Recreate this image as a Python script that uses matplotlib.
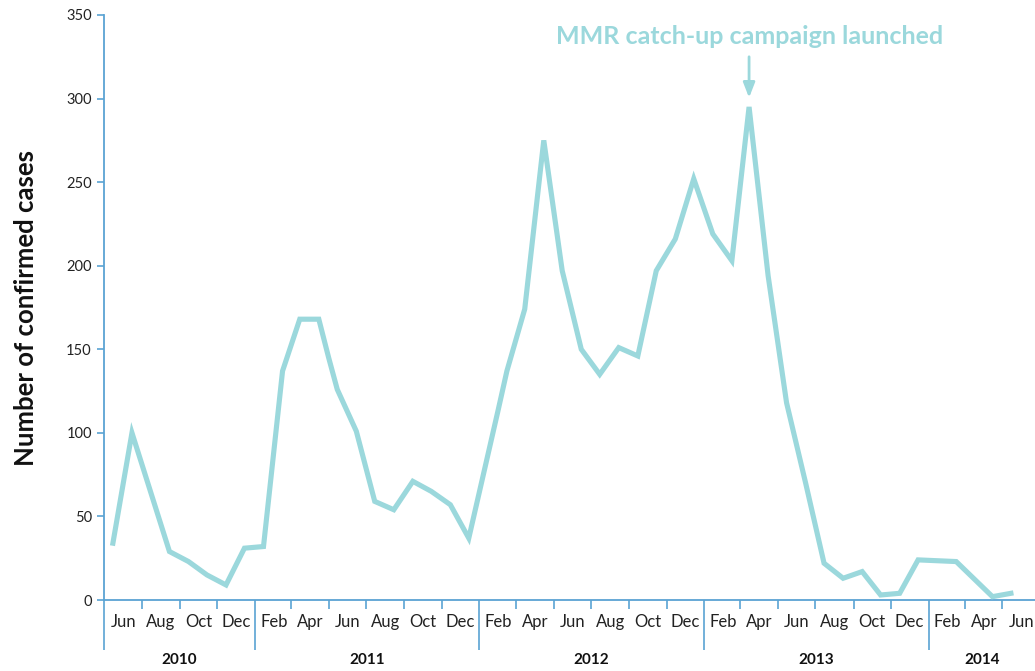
import matplotlib
matplotlib.use("Agg")
import matplotlib.pyplot as plt
import matplotlib.dates as mdates
import pandas as pd

# ---- data ----
dates = ["2010-05-15", "2010-06-15", "2010-08-15", "2010-09-15", "2010-10-15",
         "2010-11-15", "2010-12-15", "2011-01-15", "2011-02-15", "2011-03-15",
         "2011-04-15", "2011-05-01", "2011-05-15", "2011-06-15", "2011-07-15",
         "2011-08-15", "2011-09-15", "2011-10-15", "2011-11-15", "2011-12-15",
         "2012-02-01", "2012-02-15", "2012-03-15", "2012-04-15", "2012-05-15",
         "2012-06-15", "2012-07-15", "2012-08-15", "2012-09-15", "2012-10-15",
         "2012-11-15", "2012-12-15", "2013-01-15", "2013-02-15", "2013-03-15",
         "2013-04-15", "2013-05-15", "2013-06-15", "2013-07-15", "2013-08-15",
         "2013-09-15", "2013-10-15", "2013-11-15", "2013-12-15", "2014-02-15",
         "2014-04-15", "2014-05-15"]
cases = [34, 100, 29, 23, 15,
         9, 31, 32, 137, 168,
         168, 145, 126, 101, 59,
         54, 71, 65, 57, 37,
         114, 137, 174, 275, 197,
         150, 135, 151, 146, 197,
         216, 252, 219, 203, 295,
         194, 118, 70, 22, 13,
         17, 3, 4, 24, 23,
         2, 4]

month_labels = ["Jun", "Aug", "Oct", "Dec",
                "Feb", "Apr", "Jun", "Aug", "Oct", "Dec",
                "Feb", "Apr", "Jun", "Aug", "Oct", "Dec",
                "Feb", "Apr", "Jun", "Aug", "Oct", "Dec",
                "Feb", "Apr", "Jun"]
month_label_dates = pd.date_range("2010-06-01", "2014-06-01", freq="2MS")
years = ["2010", "2011", "2012", "2013", "2014"]
y_ticks = [0, 50, 100, 150, 200, 250, 300, 350]
annotation_text = "MMR catch-up campaign launched"
annotation_date = "2013-03-15"

# ---- style ----
LINE = "#9bd8dc"
AXIS = "#5aa3d3"
FONT = "Lato"

W, H = 1035, 671
fig = plt.figure(figsize=(W / 100, H / 100), dpi=100)
left, right, bottom, top = 104.3, 1035, 600, 15
ax = fig.add_axes([left / W, (H - bottom) / H, (right - left) / W, (bottom - top) / H])

x = mdates.date2num(pd.to_datetime(dates))
ax.plot(x, cases, color=LINE, lw=3.7, solid_joinstyle="miter", clip_on=False, zorder=3)

x0 = mdates.date2num(pd.Timestamp("2010-05-01"))
month_px = 18.71
x1 = x0 + (right - left) / month_px * 30.44
ax.set_xlim(x0, x1)
ax.set_ylim(0, 350)

for s in ["top", "right"]:
    ax.spines[s].set_visible(False)
for s in ["left", "bottom"]:
    ax.spines[s].set_color(AXIS)
    ax.spines[s].set_linewidth(1.3)

ax.set_yticks(y_ticks)
ax.set_yticklabels([str(v) for v in y_ticks], fontsize=10.5, fontname=FONT, color="#222222")
ax.tick_params(axis="y", length=5, width=1.2, color=AXIS, pad=4)

major = [pd.Timestamp("2010-05-01")] + [pd.Timestamp(f"{y}-01-01") for y in years[1:]]
minor = [d for d in pd.date_range("2010-07-01", "2014-05-01", freq="2MS") if d.month != 1]
ax.set_xticks(mdates.date2num(major))
ax.set_xticks(mdates.date2num(minor), minor=True)
ax.set_xticklabels([])
ax.tick_params(axis="x", which="major", length=36, width=1.2, color=AXIS)
ax.tick_params(axis="x", which="minor", length=6.5, width=1.2, color=AXIS)

tr = ax.get_xaxis_transform()
for d, lab in zip(month_label_dates, month_labels):
    ax.text(mdates.date2num(d), -22 / 585, lab, transform=tr, ha="center", va="center",
            fontsize=12, fontname=FONT, color="#222222", clip_on=False)

bounds = [x0] + list(mdates.date2num([pd.Timestamp(f"{y}-01-01") for y in years[1:]])) + [x1]
for i, yr in enumerate(years):
    ax.text((bounds[i] + bounds[i + 1]) / 2, -60 / 585, yr, transform=tr, ha="center",
            va="center", fontsize=11, fontweight="bold", fontname=FONT, color="#111111")

ax.set_ylabel("Number of confirmed cases", fontsize=18.5, fontweight="bold", fontname=FONT,
              color="#111111", labelpad=20)

xa = mdates.date2num(pd.Timestamp(annotation_date))
ax.annotate("", xy=(xa, 300.5), xytext=(xa, 325),
            arrowprops=dict(arrowstyle="-|>,head_length=0.9,head_width=0.35",
                        color=LINE, lw=2, shrinkA=0, shrinkB=0))
ax.text(xa, 337, annotation_text, ha="center", va="center", fontsize=18,
        fontweight="bold", fontname=FONT, color=LINE)

fig.savefig("out.png", dpi=100)
